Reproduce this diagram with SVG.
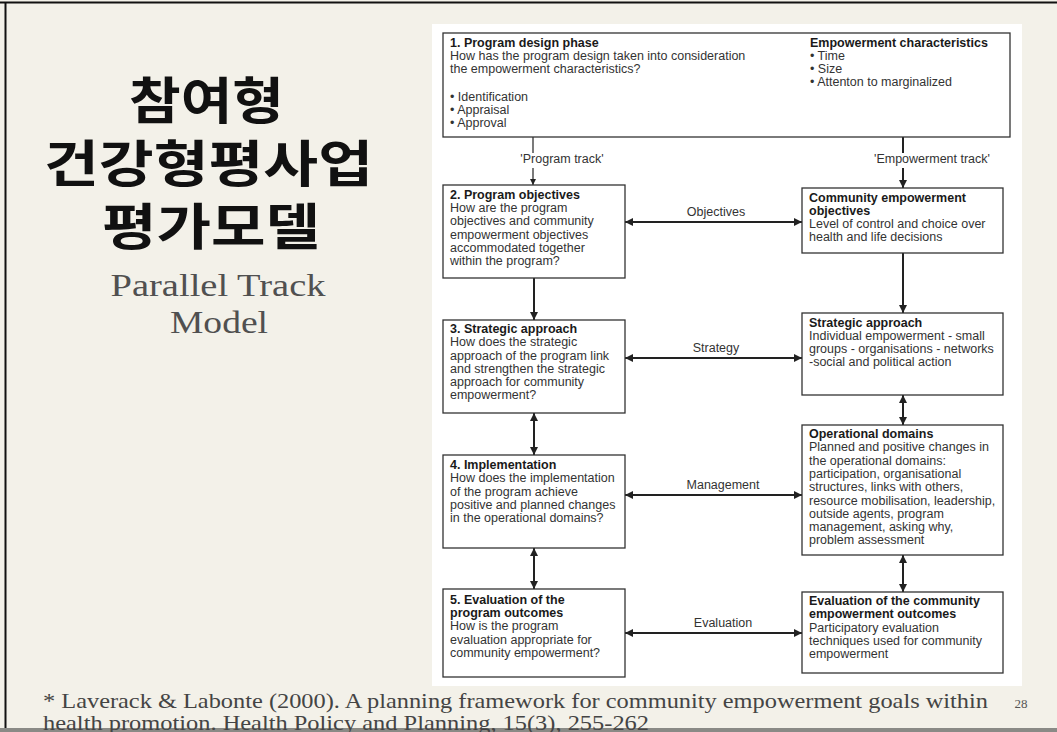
<svg xmlns="http://www.w3.org/2000/svg" width="1057" height="732" viewBox="0 0 1057 732">
<style>
.box{fill:#fff;stroke:#333;stroke-width:1.3}
.t{font-family:"Liberation Sans",Arial,sans-serif;font-size:12.5px;fill:#333}
.b{font-weight:bold;fill:#1a1a1a}
.lbl{font-family:"Liberation Sans",Arial,sans-serif;font-size:12.5px;fill:#333;text-anchor:middle}
.c{stroke:#222;stroke-width:2;fill:none}
.cs{stroke:#222;stroke-width:1.2;fill:none}
.ko{font-family:"Noto Sans CJK KR",sans-serif;font-weight:bold;font-size:50px;fill:#111;text-anchor:middle}
.en{font-family:"Liberation Serif",serif;font-size:31px;fill:#505050;text-anchor:middle}
.ft{font-family:"Liberation Serif",serif;font-size:21px;fill:#444}
</style>
<defs>
<marker id="ah" viewBox="0 0 10 10" refX="10" refY="5" markerWidth="9" markerHeight="8" markerUnits="userSpaceOnUse" orient="auto-start-reverse"><path d="M0,0 L10,5 L0,10 z" fill="#222"/></marker>
<marker id="ahs" viewBox="0 0 10 10" refX="10" refY="5" markerWidth="7" markerHeight="6" markerUnits="userSpaceOnUse" orient="auto-start-reverse"><path d="M0,0 L10,5 L0,10 z" fill="#222"/></marker>
</defs>
<rect x="0" y="0" width="1057" height="732" fill="#f3f1e9"/>
<line x1="0" y1="2.5" x2="1057" y2="2.5" stroke="#111" stroke-width="2"/>
<line x1="5.5" y1="2" x2="5.5" y2="732" stroke="#111" stroke-width="2"/>
<rect x="0" y="728" width="1057" height="4" fill="#8a8a86"/>

<g id="title">
<text class="ko" x="206.5" y="119" textLength="155" lengthAdjust="spacingAndGlyphs">참여형</text>
<text class="ko" x="208.5" y="182" textLength="329" lengthAdjust="spacingAndGlyphs">건강형평사업</text>
<text class="ko" x="211" y="245" textLength="218" lengthAdjust="spacingAndGlyphs">평가모델</text>
<text class="en" x="218" y="296" textLength="215" lengthAdjust="spacingAndGlyphs">Parallel Track</text>
<text class="en" x="219" y="333" textLength="98" lengthAdjust="spacingAndGlyphs">Model</text>
</g>

<rect x="432" y="24" width="590" height="662" fill="#fff"/>

<g id="connectors">
<line class="cs" x1="533" y1="137" x2="533" y2="153"/>
<line class="cs" x1="533" y1="168" x2="533" y2="185" marker-end="url(#ahs)"/>
<line class="c" x1="903" y1="137" x2="903" y2="153"/>
<line class="c" x1="903" y1="168" x2="903" y2="188" marker-end="url(#ah)"/>
<line class="c" x1="534" y1="278" x2="534" y2="320" marker-end="url(#ah)"/>
<line class="c" x1="534" y1="413" x2="534" y2="455" marker-start="url(#ah)" marker-end="url(#ah)"/>
<line class="c" x1="534" y1="548" x2="534" y2="589" marker-start="url(#ah)" marker-end="url(#ah)"/>
<line class="c" x1="903" y1="253" x2="903" y2="313" marker-end="url(#ah)"/>
<line class="c" x1="903" y1="395" x2="903" y2="425" marker-start="url(#ah)" marker-end="url(#ah)"/>
<line class="c" x1="903" y1="555" x2="903" y2="592" marker-start="url(#ah)" marker-end="url(#ah)"/>
<line class="c" x1="625" y1="222" x2="802" y2="222" marker-start="url(#ah)" marker-end="url(#ah)"/>
<line class="c" x1="625" y1="358" x2="802" y2="358" marker-start="url(#ah)" marker-end="url(#ah)"/>
<line class="c" x1="625" y1="495" x2="802" y2="495" marker-start="url(#ah)" marker-end="url(#ah)"/>
<line class="c" x1="625" y1="633" x2="802" y2="633" marker-start="url(#ah)" marker-end="url(#ah)"/>
<text class="lbl" x="562" y="163">'Program track'</text>
<text class="lbl" x="932" y="163">'Empowerment track'</text>
<text class="lbl" x="716" y="216">Objectives</text>
<text class="lbl" x="716" y="352">Strategy</text>
<text class="lbl" x="723" y="489">Management</text>
<text class="lbl" x="723" y="627">Evaluation</text>
</g>

<g id="n1">
<rect class="box" x="443" y="33" width="567" height="104"/>
<text class="t b" x="450" y="47">1. Program design phase</text>
<text class="t" x="450" y="60">How has the program design taken into consideration</text>
<text class="t" x="450" y="73">the empowerment characteristics?</text>
<text class="t" x="450" y="101">• Identification</text>
<text class="t" x="450" y="114">• Appraisal</text>
<text class="t" x="450" y="127">• Approval</text>
<text class="t b" x="810" y="47">Empowerment characteristics</text>
<text class="t" x="810" y="60">• Time</text>
<text class="t" x="810" y="73">• Size</text>
<text class="t" x="810" y="86">• Attenton to marginalized</text>
</g>

<g id="n2">
<rect class="box" x="443" y="185" width="182" height="93"/>
<text class="t b" x="450" y="199">2. Program objectives</text>
<text class="t" x="450" y="212">How are the program</text>
<text class="t" x="450" y="225">objectives and community</text>
<text class="t" x="450" y="238.5">empowerment objectives</text>
<text class="t" x="450" y="252">accommodated together</text>
<text class="t" x="450" y="265">within the program?</text>
</g>

<g id="n3">
<rect class="box" x="443" y="320" width="182" height="93"/>
<text class="t b" x="450" y="333">3. Strategic approach</text>
<text class="t" x="450" y="346">How does the strategic</text>
<text class="t" x="450" y="359.5">approach of the program link</text>
<text class="t" x="450" y="373">and strengthen the strategic</text>
<text class="t" x="450" y="386">approach for community</text>
<text class="t" x="450" y="399">empowerment?</text>
</g>

<g id="n4">
<rect class="box" x="443" y="455" width="182" height="93"/>
<text class="t b" x="450" y="469">4. Implementation</text>
<text class="t" x="450" y="482">How does the implementation</text>
<text class="t" x="450" y="495.5">of the program achieve</text>
<text class="t" x="450" y="509">positive and planned changes</text>
<text class="t" x="450" y="522">in the operational domains?</text>
</g>

<g id="n5">
<rect class="box" x="443" y="589" width="182" height="88"/>
<text class="t b" x="450" y="604">5. Evaluation of the</text>
<text class="t b" x="450" y="617">program outcomes</text>
<text class="t" x="450" y="630">How is the program</text>
<text class="t" x="450" y="643.5">evaluation appropriate for</text>
<text class="t" x="450" y="657">community empowerment?</text>
</g>

<g id="r1">
<rect class="box" x="802" y="188" width="201" height="65"/>
<text class="t b" x="809" y="202">Community empowerment</text>
<text class="t b" x="809" y="215">objectives</text>
<text class="t" x="809" y="228">Level of control and choice over</text>
<text class="t" x="809" y="241">health and life decisions</text>
</g>

<g id="r2">
<rect class="box" x="802" y="313" width="201" height="82"/>
<text class="t b" x="809" y="327">Strategic approach</text>
<text class="t" x="809" y="340">Individual empowerment - small</text>
<text class="t" x="809" y="353">groups - organisations - networks</text>
<text class="t" x="809" y="366">-social and political action</text>
</g>

<g id="r3">
<rect class="box" x="802" y="425" width="201" height="130"/>
<text class="t b" x="809" y="438">Operational domains</text>
<text class="t" x="809" y="451.3">Planned and positive changes in</text>
<text class="t" x="809" y="464.6">the operational domains:</text>
<text class="t" x="809" y="477.9">participation, organisational</text>
<text class="t" x="809" y="491.2">structures, links with others,</text>
<text class="t" x="809" y="504.5">resource mobilisation, leadership,</text>
<text class="t" x="809" y="517.8">outside agents, program</text>
<text class="t" x="809" y="531.1">management, asking why,</text>
<text class="t" x="809" y="544.4">problem assessment</text>
</g>

<g id="r4">
<rect class="box" x="802" y="592" width="201" height="81"/>
<text class="t b" x="809" y="605">Evaluation of the community</text>
<text class="t b" x="809" y="618">empowerment outcomes</text>
<text class="t" x="809" y="631.5">Participatory evaluation</text>
<text class="t" x="809" y="645">techniques used for community</text>
<text class="t" x="809" y="658">empowerment</text>
</g>

<g id="footer">
<text class="ft" x="43" y="708" textLength="945" lengthAdjust="spacingAndGlyphs">* Laverack &amp; Labonte (2000). A planning framework for community empowerment goals within</text>
<text class="ft" x="43" y="730" textLength="606" lengthAdjust="spacingAndGlyphs">health promotion. Health Policy and Planning, 15(3), 255-262</text>
<text x="1021" y="708" font-family="Liberation Serif,serif" font-size="13" fill="#555" text-anchor="middle">28</text>
</g>
</svg>
